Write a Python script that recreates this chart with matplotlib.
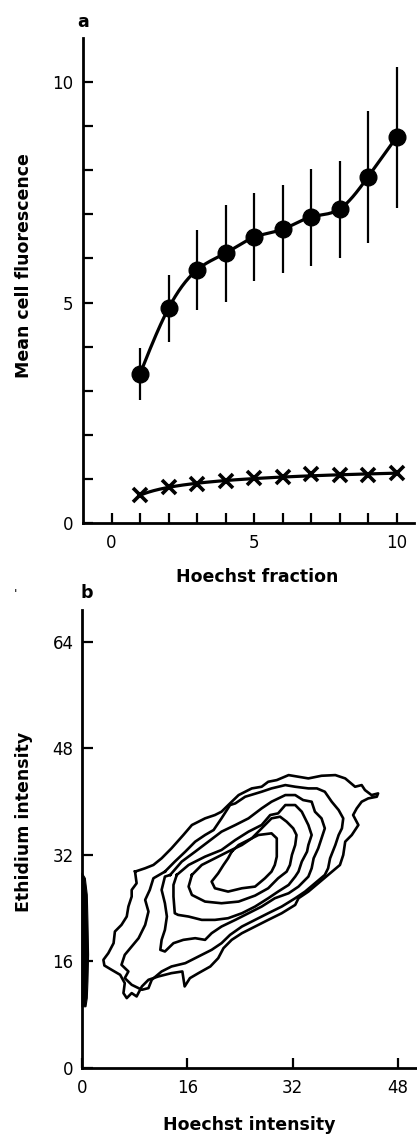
import numpy as np
import matplotlib
matplotlib.use("Agg")
import matplotlib.pyplot as plt
from matplotlib.ticker import FixedLocator

plt.rcParams['font.family'] = ['DejaVu Sans']

# ---------------- Panel a data ----------------
fraction = [1, 2, 3, 4, 5, 6, 7, 8, 9, 10]
total_mean = [3.38, 4.87, 5.74, 6.12, 6.48, 6.66, 6.94, 7.12, 7.85, 8.75]
total_err = [0.60, 0.76, 0.90, 1.10, 1.00, 1.00, 1.10, 1.10, 1.50, 1.60]
background = [0.63, 0.82, 0.88, 0.95, 1.02, 1.04, 1.11, 1.09, 1.09, 1.13]
a_xticks_major = [0, 5, 10]
a_yticks_major = [0, 5, 10]

# ---------------- Panel b data (contour outlines) ----------------
contour1 = list(zip(
    [8.06, 9.58, 10.85, 12.1, 13.6, 15.4, 16.7, 18.7, 20.2, 21.2, 22.75, 23.8, 25.8, 27.3, 28.3,
     29.6, 31.4, 32.9, 34.4, 36.4, 38.5, 40.0, 41.5, 42.5, 43.0, 44.0, 45.0, 44.8, 43.5, 42.5,
     41.75, 41.2, 42.0, 41.0, 40.0, 39.7, 39.2, 37.4, 35.9, 34.4, 32.9, 32.4, 30.35, 28.3, 26.3,
     24.3, 22.75, 21.5, 20.7, 19.5, 17.7, 16.4, 15.6, 15.25, 13.6, 11.6, 10.1, 9.1, 8.3, 7.55,
     6.8, 6.3, 6.5, 5.8, 4.5, 3.4, 3.25, 4.0, 4.8, 5.0, 6.0, 6.8, 7.05, 7.55, 7.55, 8.3],
    [29.5, 30.0, 30.5, 31.5, 33.0, 35.0, 36.5, 37.5, 38.0, 38.5, 40.0, 41.0, 42.0, 42.25, 43.0,
     43.25, 44.0, 43.75, 43.5, 43.9, 44.0, 43.5, 42.25, 42.5, 41.75, 41.0, 41.25, 40.75, 40.5, 40.0,
     39.0, 38.0, 36.5, 35.0, 34.0, 32.0, 30.5, 29.0, 27.75, 26.5, 25.5, 24.5, 23.25, 22.25, 21.25,
     20.25, 19.25, 18.0, 16.5, 15.25, 14.25, 13.5, 12.25, 14.5, 14.25, 13.75, 13.25, 12.25, 10.75, 11.25,
     10.5, 11.25, 12.75, 14.0, 14.75, 15.4, 16.25, 17.25, 18.75, 20.5, 21.5, 22.75, 24.25, 25.75, 26.75, 27.75]))
contour2 = list(zip(
    [12.6, 14.1, 15.7, 17.2, 18.7, 20.0, 21.2, 22.5, 23.3, 24.8, 27.3, 28.8, 30.9, 32.4, 34.4,
     35.7, 36.9, 37.95, 39.0, 39.7, 39.5, 39.0, 38.5, 37.7, 37.4, 36.9, 35.4, 33.9, 32.4, 30.35,
     28.3, 26.3, 24.3, 22.5, 21.2, 19.7, 17.7, 15.7, 13.6, 12.1, 10.6, 10.1, 9.1, 7.55, 6.5,
     7.05, 6.0, 6.5, 7.55, 8.6, 9.6, 10.1, 9.6, 10.3, 10.85],
    [29.5, 31.0, 32.5, 34.0, 35.0, 35.75, 37.5, 39.5, 39.75, 40.75, 41.5, 42.0, 42.5, 42.25, 42.0,
     42.0, 41.5, 40.0, 38.75, 37.5, 36.0, 35.0, 33.5, 31.5, 30.0, 29.0, 27.75, 26.5, 25.5, 24.25,
     23.25, 22.25, 21.25, 20.0, 18.75, 17.75, 16.75, 15.75, 15.25, 14.5, 13.25, 12.0, 11.75, 12.5, 13.5,
     14.5, 15.5, 17.0, 18.25, 19.5, 21.5, 23.5, 25.25, 26.75, 28.5]))
contour3 = list(zip(
    [13.4, 15.15, 17.2, 19.2, 21.2, 23.3, 25.3, 27.3, 28.8, 30.9, 32.4, 33.6, 34.9, 35.4, 36.4,
     36.9, 36.4, 35.9, 35.2, 34.9, 34.4, 32.9, 31.4, 29.3, 27.3, 25.3, 23.3, 21.2, 19.7, 18.7,
     17.2, 15.4, 13.9, 12.6, 11.9, 12.1, 12.6, 12.9, 12.6, 12.1, 12.6],
    [29.0, 31.0, 32.5, 34.0, 35.5, 36.5, 37.5, 39.0, 40.0, 41.0, 41.0, 40.25, 40.0, 38.5, 37.5,
     36.0, 34.5, 33.0, 31.5, 30.0, 28.75, 27.25, 26.25, 25.5, 24.25, 23.25, 22.25, 21.25, 20.25, 19.25,
     19.5, 19.25, 18.75, 17.5, 17.75, 19.25, 20.75, 22.75, 24.75, 26.75, 28.75]))
contour4 = list(zip(
    [14.4, 16.2, 18.7, 21.2, 23.3, 25.3, 27.3, 28.6, 29.8, 30.9, 32.4, 33.4, 33.9, 34.4, 34.9,
     34.4, 34.2, 33.4, 32.9, 32.4, 31.4, 29.8, 28.3, 26.3, 24.3, 22.2, 20.2, 18.2, 16.2, 14.6,
     14.1, 13.9, 13.9],
    [29.0, 30.5, 31.75, 32.75, 34.25, 35.5, 36.5, 38.0, 38.25, 39.5, 39.5, 38.5, 37.5, 36.5, 35.0,
     33.5, 32.5, 31.0, 29.5, 28.75, 27.5, 26.5, 25.5, 24.25, 23.25, 22.5, 22.25, 22.25, 22.75, 23.0,
     23.25, 25.75, 27.5]))
contour5 = list(zip(
    [16.7, 18.2, 20.2, 22.2, 24.3, 25.8, 27.3, 28.8, 30.1, 31.1, 32.1, 32.6, 32.4, 31.9, 31.6,
     31.1, 29.8, 28.3, 26.3, 23.8, 21.2, 18.7, 16.7, 16.2],
    [29.0, 30.5, 31.5, 32.5, 33.5, 34.5, 36.0, 37.5, 37.75, 37.0, 36.0, 35.0, 33.5, 32.0, 30.5,
     29.5, 28.5, 27.0, 25.9, 25.0, 24.75, 25.0, 26.0, 27.25]))
contour6 = list(zip(
    [22.75, 23.8, 25.8, 26.8, 28.8, 29.6, 29.6, 29.6, 29.3, 28.8, 27.8, 26.3, 24.3, 22.2, 20.2,
     19.7, 20.7, 21.5, 22.2],
    [32.5, 33.5, 34.5, 35.0, 35.25, 34.5, 33.25, 31.75, 30.5, 29.5, 28.5, 27.25, 27.0, 26.5, 27.0,
     28.0, 29.25, 30.5, 31.5]))
contours = [contour1, contour2, contour3, contour4, contour5, contour6]
zero_hoechst_x = [0, 0.5, 0.8, 0.9, 1.0, 0.9, 0.8, 0.6, 0]
zero_hoechst_y = [29.3, 28.5, 26.0, 22.0, 17.0, 13.0, 10.5, 9.2, 9.2]
b_ticks_x = [0, 16, 32, 48]
b_ticks_y = [0, 16, 32, 48, 64]


def natural_spline(x, y, xs):
    x = np.asarray(x, float)
    y = np.asarray(y, float)
    n = len(x)
    h = np.diff(x)
    A = np.zeros((n, n))
    r = np.zeros(n)
    A[0, 0] = A[-1, -1] = 1
    for i in range(1, n - 1):
        A[i, i - 1] = h[i - 1]
        A[i, i] = 2 * (h[i - 1] + h[i])
        A[i, i + 1] = h[i]
        r[i] = 3 * ((y[i + 1] - y[i]) / h[i] - (y[i] - y[i - 1]) / h[i - 1])
    c = np.linalg.solve(A, r)
    b = (y[1:] - y[:-1]) / h - h * (2 * c[:-1] + c[1:]) / 3
    d = (c[1:] - c[:-1]) / (3 * h)
    idx = np.clip(np.searchsorted(x, xs) - 1, 0, n - 2)
    dx = xs - x[idx]
    return y[idx] + b[idx] * dx + c[idx] * dx ** 2 + d[idx] * dx ** 3


W, H = 417, 1135
fig = plt.figure(figsize=(W / 100, H / 100), dpi=100)

LW_SPINE = 2.0
TICK_FS = 12
LABEL_FS = 12.5

# ---------------- Panel a ----------------
axa = fig.add_axes([83 / W, 1 - 523 / H, 330.6 / W, 485 / H])
axa.set_xlim(-1, 10.6)
axa.set_ylim(0, 11)
xf = np.array(fraction, float)
xs = np.linspace(1, 10, 300)
axa.plot(xs, natural_spline(xf, total_mean, xs), color='black', lw=2.3, zorder=2)
axa.errorbar(fraction, total_mean, yerr=total_err, fmt='o', color='black', ms=12,
             elinewidth=1.6, capsize=0, zorder=3)
coef = np.polyfit(np.log(xf), background, 2)
axa.plot(xs, np.polyval(coef, np.log(xs)), color='black', lw=2.3, zorder=2)
axa.plot(fraction, background, 'x', color='black', ms=10, mew=2.6, zorder=3)

for s in ['top', 'right']:
    axa.spines[s].set_visible(False)
for s in ['left', 'bottom']:
    axa.spines[s].set_linewidth(LW_SPINE)
axa.xaxis.set_major_locator(FixedLocator(a_xticks_major))
axa.xaxis.set_minor_locator(FixedLocator([v for v in range(0, 11) if v not in a_xticks_major]))
axa.yaxis.set_major_locator(FixedLocator(a_yticks_major))
axa.yaxis.set_minor_locator(FixedLocator([v for v in range(0, 11) if v not in a_yticks_major]))
axa.tick_params(axis='x', which='both', direction='in', length=7, width=1.6, pad=8, labelsize=TICK_FS)
axa.tick_params(axis='y', which='both', direction='in', length=7, width=1.6, pad=7, labelsize=TICK_FS)
axa.set_xlabel('Hoechst fraction', fontsize=LABEL_FS, fontweight='bold', va='center')
axa.xaxis.set_label_coords(0.526, -0.111)
axa.set_ylabel('Mean cell fluorescence', fontsize=LABEL_FS, fontweight='bold', va='center')
axa.yaxis.set_label_coords(-0.178, 0.53)

# ---------------- Panel b ----------------
axb = fig.add_axes([82 / W, 1 - 1068 / H, 335.6 / W, 458 / H])
axb.set_xlim(0, 51)
axb.set_ylim(0, 68.8)
for cnt in contours:
    cx, cy = zip(*cnt)
    cx = list(cx) + [cx[0]]
    cy = list(cy) + [cy[0]]
    axb.plot(cx, cy, color='black', lw=1.9, solid_joinstyle='round', zorder=2)
axb.fill(zero_hoechst_x, zero_hoechst_y, color='black', lw=0.8, zorder=3, clip_on=False)

for s in ['top', 'right']:
    axb.spines[s].set_visible(False)
for s in ['left', 'bottom']:
    axb.spines[s].set_linewidth(LW_SPINE)
axb.set_xticks(b_ticks_x)
axb.set_yticks(b_ticks_y)
axb.tick_params(axis='x', direction='in', length=7, width=1.6, pad=8, labelsize=TICK_FS)
axb.tick_params(axis='y', direction='in', length=8, width=1.6, pad=6, labelsize=TICK_FS)
axb.set_xlabel('Hoechst intensity', fontsize=LABEL_FS, fontweight='bold', va='center')
axb.xaxis.set_label_coords(0.497, -0.124)
axb.set_ylabel('Ethidium intensity', fontsize=LABEL_FS, fontweight='bold', va='center')
axb.yaxis.set_label_coords(-0.173, 0.537)

# panel letters
fig.text(83 / W, 1 - 22 / H, 'a', fontsize=LABEL_FS, fontweight='bold', ha='center', va='center')
fig.text(87 / W, 1 - 593 / H, 'b', fontsize=LABEL_FS, fontweight='bold', ha='center', va='center')
fig.text(16 / W, 1 - 595 / H, "'", fontsize=9, ha='center', va='center')

fig.savefig('out.png', dpi=100)
